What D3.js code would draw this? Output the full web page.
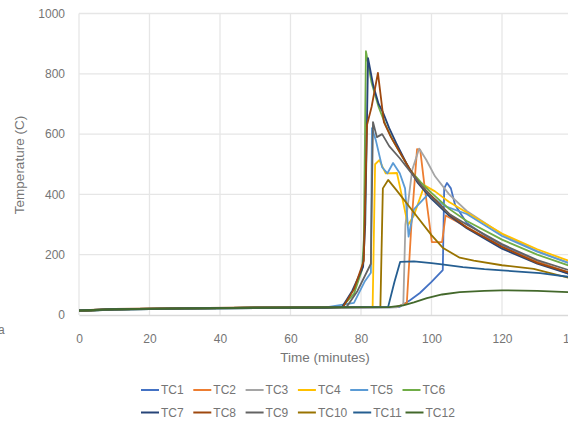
<!DOCTYPE html>
<html><head><meta charset="utf-8">
<script src="https://cdn.jsdelivr.net/npm/d3@7"></script>
<style>body{margin:0;background:#fff}svg{display:block}text{font-family:"Liberation Sans",Arial,sans-serif}</style>
</head><body>
<svg id="c" width="568" height="421"></svg>
<script>
const seriesNames = ["TC1","TC2","TC3","TC4","TC5","TC6","TC7","TC8","TC9","TC10","TC11","TC12"];
const seriesColors = ["#4472C4","#ED7D31","#A5A5A5","#FFC000","#5B9BD5","#70AD47","#264478","#9E480E","#636363","#997300","#255E91","#43682B"];
const xTicks = [0,20,40,60,80,100,120,140];
const yTicks = [0,200,400,600,800,1000];

const tc1 = [[0,14],[10,18],[30,21],[50,23],[70,24],[88,25],[91,27],[94,50],[96.7,73],[100,110],[103.2,149],[103.6,420],[104.4,438],[105.5,420],[106.7,365],[110,305],[115,265],[120,232],[130,178],[140,132]];
const tc2 = [[0,15],[10,19],[30,22],[50,24],[70,25],[90,26],[93,40],[94.3,300],[95.9,550],[96.8,548],[98,430],[100.1,242],[103,242],[104,330],[110,292],[120,226],[130,176],[140,137]];
const tc3 = [[0,14],[10,18],[30,21],[50,23],[70,24],[90,25],[92,35],[92.6,300],[94.5,480],[96.5,552],[98.5,515],[101,460],[105,400],[110,345],[120,268],[130,212],[140,168]];
const tc4 = [[0,14],[10,19],[30,22],[50,24],[70,25],[83.3,27],[84,500],[85.2,514],[87,470],[90.2,471],[91.5,400],[93.3,298],[95,330],[98,430],[101,410],[105,375],[110,340],[120,270],[130,218],[140,175]];
const tc5 = [[0,15],[10,19],[30,22],[50,24],[70,25],[78,40],[81,110],[82.8,140],[83.1,620],[84.2,580],[86,490],[87.5,470],[89.1,504],[91,470],[92.5,420],[93.5,260],[95,350],[99,400],[104,360],[110,335],[120,262],[130,210],[140,168]];
const tc6 = [[0,13],[10,18],[30,21],[50,23],[70,25],[74.6,27],[78,70],[80.3,150],[80.8,250],[81.4,875],[83,770],[85,690],[87,630],[89,580],[91,540],[94,480],[97,440],[100,405],[105,352],[110,312],[120,250],[130,200],[140,160]];
const tc7 = [[0,13],[10,18],[30,21],[50,23],[70,24],[74.6,26],[77.5,80],[80.6,160],[81.2,300],[82,852],[83.5,760],[85,700],[86.2,673],[88,620],[90,570],[93,500],[96,440],[100,385],[105,330],[110,288],[120,220],[130,170],[140,133]];
const tc8 = [[0,15],[10,20],[30,23],[50,25],[70,26],[75,28],[78,85],[80.8,180],[81.7,630],[83,690],[84.8,803],[86.5,640],[88.5,590],[91,540],[94,480],[97,430],[100,395],[105,335],[110,290],[120,226],[130,173],[140,137]];
const tc9 = [[0,14],[10,19],[30,22],[50,24],[70,25],[76,28],[79,80],[82.8,170],[83.4,640],[84.5,590],[86,600],[88,560],[91,520],[95,460],[100,390],[105,335],[110,300],[120,235],[130,182],[140,145]];
const tc10 = [[0,14],[10,19],[30,22],[50,24],[70,25],[85.5,27],[86.2,420],[87.7,448],[90,415],[95,340],[100,265],[103.3,222],[108,190],[112,180],[120,165],[129,153],[140,120]];
const tc11 = [[0,15],[10,19],[30,22],[50,24],[70,25],[87.7,27],[89.5,110],[91.1,176],[95,178],[100,172],[102.4,169],[108.9,159],[115,152],[120,148],[130.8,139],[140,125]];
const tc12 = [[0,15],[10,19],[30,22],[50,24],[70,25],[88,26],[92,32],[95,42],[98.7,56],[103,68],[108,76],[115,80],[120,82],[130,80],[140,75]];
const allSeries = [tc1,tc2,tc3,tc4,tc5,tc6,tc7,tc8,tc9,tc10,tc11,tc12];

const svg = d3.select("#c");
const x = d3.scaleLinear().domain([0,140]).range([79,572.5]);
const y = d3.scaleLinear().domain([0,1000]).range([315,13.5]);
const grid = "#e6e6e6", txt = "#757575";

// gridlines
svg.append("g").selectAll("line").data(yTicks.filter(d=>d>0)).join("line")
  .attr("x1",x(0)).attr("x2",x(140)).attr("y1",d=>y(d)).attr("y2",d=>y(d))
  .attr("stroke",grid).attr("stroke-width",1.3);
svg.append("g").selectAll("line").data(xTicks).join("line")
  .attr("x1",d=>x(d)).attr("x2",d=>x(d)).attr("y1",y(0)).attr("y2",y(1000))
  .attr("stroke",grid).attr("stroke-width",1.3);

// axes
const xa = svg.append("g").attr("transform",`translate(0,${y(0)})`)
  .call(d3.axisBottom(x).tickValues(xTicks).tickSize(0).tickPadding(19).tickFormat(d3.format("d")));
xa.select(".domain").attr("stroke","#d9d9d9").attr("stroke-width",1.3);
xa.selectAll("text").attr("fill",txt).attr("font-size","12px").attr("font-family","Liberation Sans, Arial, sans-serif");
const ya = svg.append("g").attr("transform",`translate(${x(0)},0)`)
  .call(d3.axisLeft(y).tickValues(yTicks).tickSize(0).tickPadding(14).tickFormat(d3.format("d")));
ya.select(".domain").remove();
ya.selectAll("text").attr("fill",txt).attr("font-size","12px").attr("font-family","Liberation Sans, Arial, sans-serif");

// series
const line = d3.line().x(d=>x(d[0])).y(d=>y(d[1]));
svg.append("g").selectAll("path").data(allSeries).join("path")
  .attr("d",line).attr("fill","none")
  .attr("stroke",(d,i)=>seriesColors[i]).attr("stroke-width",1.8)
  .attr("stroke-linejoin","round");

// titles
svg.append("text").attr("x",325).attr("y",362).attr("text-anchor","middle")
  .attr("fill",txt).attr("font-size","13.5px").text("Time (minutes)");
svg.append("text").attr("transform","translate(24,165) rotate(-90)").attr("text-anchor","middle")
  .attr("fill",txt).attr("font-size","13.5px").text("Temperature (C)");
svg.append("text").attr("x",-2).attr("y",334).attr("fill",txt).attr("font-size","12px").text("a");

// legend
const leg = svg.append("g");
seriesNames.forEach((n,i)=>{
  const row = Math.floor(i/6), col = i%6;
  const lx = 141 + col*52.3 + (row===1 && col>=4 ? 3 : 0);
  const ly = 390 + row*22.5;
  leg.append("line").attr("x1",lx).attr("x2",lx+18).attr("y1",ly).attr("y2",ly)
    .attr("stroke",seriesColors[i]).attr("stroke-width",2);
  leg.append("text").attr("x",lx+20).attr("y",ly+4.2).attr("fill",txt)
    .attr("font-size","12px").text(n);
});
</script>
</body></html>
